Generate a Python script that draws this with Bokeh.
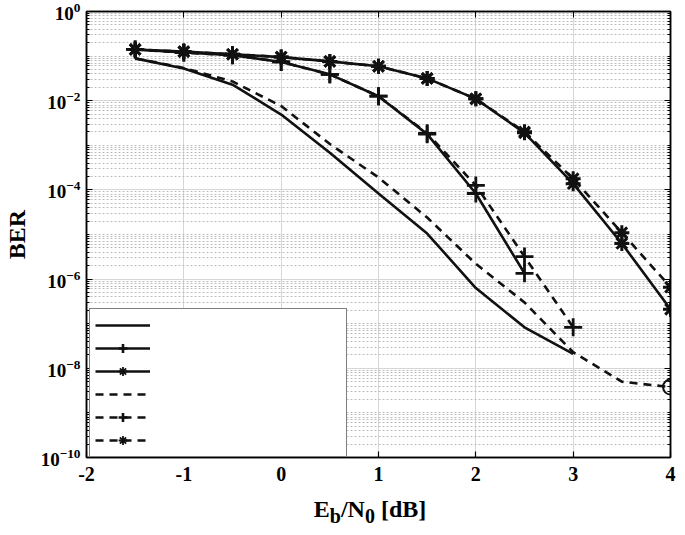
from bokeh.plotting import figure
from bokeh.models import (LogAxis, LinearAxis, FixedTicker, Legend, LegendItem, Div,
                          CustomLabelingPolicy)
from bokeh.layouts import column
from bokeh.embed import file_html
from bokeh.resources import INLINE

# ---------------- data ----------------
x_a = [-1.5, -1, -0.5, 0, 0.5, 1, 1.5, 2, 2.5, 3]
ber_a = [8.9e-2, 5.25e-2, 2.29e-2, 4.9e-3, 6.8e-4, 8.3e-5, 1.05e-5, 6.3e-7, 8.3e-8, 2.1e-8]

x_b = [-1.5, -1, -0.5, 0, 0.5, 1, 1.5, 2, 2.5]
ber_b = [0.141, 0.120, 0.105, 0.074, 0.039, 0.0126, 1.78e-3, 8.3e-5, 1.35e-6]

x_c = [-1.5, -1, -0.5, 0, 0.5, 1, 1.5, 2, 2.5, 3, 3.5, 4]
ber_c = [0.141, 0.126, 0.110, 0.095, 0.076, 0.059, 0.0316, 0.011, 1.9e-3, 1.38e-4, 6.3e-6, 2.1e-7]

x_d = [-1.5, -1, -0.5, 0, 0.5, 1, 1.5, 2, 2.5, 3, 3.5, 4]
ber_d = [8.9e-2, 5.4e-2, 2.7e-2, 7.6e-3, 1.07e-3, 1.9e-4, 2.4e-5, 2.2e-6, 3.0e-7, 2.3e-8, 5.0e-9, 3.8e-9]

x_e = [-1.5, -1, -0.5, 0, 0.5, 1, 1.5, 2, 2.5, 3]
ber_e = [0.141, 0.120, 0.105, 0.074, 0.039, 0.0126, 1.86e-3, 1.26e-4, 3.2e-6, 8.3e-8]

x_f = [-1.5, -1, -0.5, 0, 0.5, 1, 1.5, 2, 2.5, 3, 3.5, 4]
ber_f = [0.141, 0.126, 0.110, 0.095, 0.076, 0.059, 0.0316, 0.011, 2.0e-3, 1.78e-4, 1.1e-5, 6.6e-7]

x_circ = [4]
ber_circ = [3.8e-9]

x_ticks = [-2, -1, 0, 1, 2, 3, 4]
x_tick_labels = ["-2", "-1", "0", "1", "2", "3", "4"]
y_major = [1e-10, 1e-8, 1e-6, 1e-4, 1e-2, 1]
y_minor = [m * 10.0 ** k for k in range(-10, 0) for m in range(1, 10) if not (m == 1 and k % 2 == 0)]

x_title_html = "E<sub>b</sub>/N<sub>0</sub> [dB]"

FONT = "Liberation Serif"
INK = "#111111"

p = figure(frame_width=584, frame_height=446, x_range=(-2, 4), y_range=(1e-10, 1),
           y_axis_type="log", output_backend="svg", toolbar_location=None,
           min_border_left=78, min_border_right=7, min_border_top=6, min_border_bottom=34)
p.background_fill_color = "white"
p.outline_line_color = "black"
p.outline_line_width = 1.5

xt = FixedTicker(ticks=x_ticks)
yt = FixedTicker(ticks=y_major, minor_ticks=y_minor)

p.xaxis.ticker = xt
p.yaxis.ticker = yt
p.xgrid.ticker = xt
p.ygrid.ticker = yt
p.xaxis.major_label_overrides = dict(zip(x_ticks, x_tick_labels))

for ax in (p.xaxis[0], p.yaxis[0]):
    ax.major_tick_in = 6
    ax.major_tick_out = 0
    ax.minor_tick_in = 3
    ax.minor_tick_out = 0
    ax.axis_line_width = 1.5
    ax.major_tick_line_width = 1.2
    ax.major_label_text_font = FONT
    ax.major_label_text_font_style = "bold"
    ax.major_label_text_font_size = "19px"
    ax.major_label_text_color = "black"
p.xaxis.major_label_text_font_size = "20px"
p.xaxis.minor_tick_line_color = None
p.xaxis.major_label_standoff = 9
p.yaxis.major_label_standoff = 6

p.yaxis.axis_label = "BER"
p.yaxis.axis_label_text_font = FONT
p.yaxis.axis_label_text_font_style = "bold"
p.yaxis.axis_label_text_font_size = "24px"
p.yaxis.axis_label_text_color = "black"
p.yaxis.axis_label_standoff = 8

p.xgrid.grid_line_color = "#d6d6d6"
p.xgrid.grid_line_width = 1
p.ygrid.grid_line_color = "#d6d6d6"
p.ygrid.grid_line_width = 1
p.ygrid.minor_grid_line_color = "#bdbdbd"
p.ygrid.minor_grid_line_dash = "2 2"
p.ygrid.minor_grid_line_width = 1

# box axes (top / right) with inward ticks only, no labels
top = LinearAxis(ticker=xt, major_tick_in=6, major_tick_out=0, minor_tick_line_color=None,
                 major_label_policy=CustomLabelingPolicy(code="return []"),
                 major_label_standoff=0, axis_line_width=1.5)
right = LogAxis(ticker=yt, major_tick_in=6, major_tick_out=0, minor_tick_in=3, minor_tick_out=0,
                major_label_policy=CustomLabelingPolicy(code="return []"),
                major_label_standoff=0, axis_line_width=1.5)
p.add_layout(top, "above")
p.add_layout(right, "right")

LW = 2.6
DASH = "8 6"

la = p.line(x_a, ber_a, line_color=INK, line_width=LW)
lb = p.line(x_b, ber_b, line_color=INK, line_width=LW)
p.scatter(x_b, ber_b, marker="cross", size=18, line_color=INK, line_width=2.8)
lc = p.line(x_c, ber_c, line_color=INK, line_width=LW)
p.scatter(x_c, ber_c, marker="asterisk", size=15, line_color=INK, fill_color=None, line_width=3)
ld = p.line(x_d, ber_d, line_color=INK, line_width=LW, line_dash=DASH)
le = p.line(x_e, ber_e, line_color=INK, line_width=LW, line_dash=DASH)
p.scatter(x_e, ber_e, marker="cross", size=18, line_color=INK, line_width=2.8)
lf = p.line(x_f, ber_f, line_color=INK, line_width=LW, line_dash=DASH)
p.scatter(x_f, ber_f, marker="asterisk", size=15, line_color=INK, fill_color=None, line_width=3)
p.scatter(x_circ, ber_circ, marker="circle", size=15, fill_color=None, line_color=INK, line_width=2)

# legend-glyph renderers: the first point of each marked series, drawn again (hidden under
# the bold marker) with thinner strokes so the small legend symbols stay readable
leg_plus = p.scatter(x_b[:1], ber_b[:1], marker="cross", size=12, line_color=INK, line_width=2.6)
leg_star = p.scatter(x_c[:1], ber_c[:1], marker="asterisk", size=12, line_color=INK,
                     fill_color=None, line_width=1.8)

legend = Legend(items=[
    LegendItem(label=" ", renderers=[la]),
    LegendItem(label=" ", renderers=[lb, leg_plus]),
    LegendItem(label=" ", renderers=[lc, leg_star]),
    LegendItem(label=" ", renderers=[ld]),
    LegendItem(label=" ", renderers=[le, leg_plus]),
    LegendItem(label=" ", renderers=[lf, leg_star]),
], location=(3, 0), margin=0, padding=5, spacing=1, glyph_width=55, glyph_height=22,
   label_width=186, label_standoff=5, border_line_color="black", border_line_width=1.5,
   background_fill_color="white", background_fill_alpha=1.0, label_text_font_size="14px")
p.add_layout(legend, "center")

title = Div(text=x_title_html, width=584, height=34, margin=(0, 0, 0, 78),
            styles={"font-family": FONT, "font-weight": "bold", "font-size": "24px",
                    "text-align": "center", "line-height": "26px", "color": "black",
                    "padding-top": "5px"})

layout = column(p, title, spacing=0)
open("out.html", "w").write(file_html(layout, INLINE))
